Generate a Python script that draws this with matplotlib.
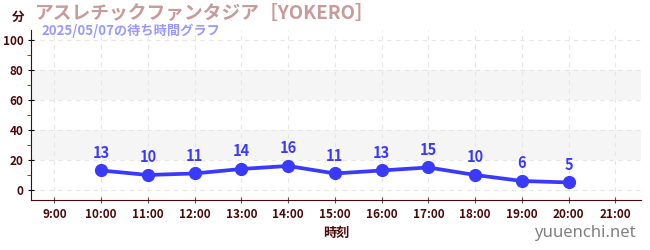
import matplotlib.pyplot as plt

plt.rcParams['font.family'] = ['Noto Sans CJK JP', 'DejaVu Sans']

# data
hours = [10, 11, 12, 13, 14, 15, 16, 17, 18, 19, 20]
waits = [13, 10, 11, 14, 16, 11, 13, 15, 10, 6, 5]
tick_hours = list(range(9, 22))
tick_labels = [f'{h}:00' for h in tick_hours]

title = 'アスレチックファンタジア［YOKERO］'
subtitle = '2025/05/07の待ち時間グラフ'

dark = '#4a0a0a'
line_col = '#3a3aff'

fig = plt.figure(figsize=(6.5, 2.5), dpi=100)
ax = fig.add_axes([31 / 650, 50 / 250, 610 / 650, 170 / 250])

ax.set_xlim(8.5, 21.55)
ax.set_ylim(-6.7, 106.7)

# alternating bands
ax.axhspan(20, 40, color='#f5f5f5', zorder=0, lw=0)
ax.axhspan(60, 80, color='#f5f5f5', zorder=0, lw=0)

ax.plot(hours, waits, color=line_col, lw=2.7, marker='o', ms=8.5, zorder=3)
for h, w in zip(hours, waits):
    ax.annotate(str(w), (h, w), xytext=(0, 7), textcoords='offset points',
                ha='center', va='bottom', color=line_col, fontsize=10.5,
                fontweight='bold')

ax.set_xticks(tick_hours)
ax.set_xticklabels(tick_labels, fontsize=8.5, color=dark, fontweight='bold')
ax.set_yticks([0, 20, 40, 60, 80, 100])
ax.set_yticks([10, 30, 50, 70, 90], minor=True)
for lab in ax.get_yticklabels():
    lab.set_fontweight('bold')
ax.tick_params(axis='y', labelsize=8.5, labelcolor=dark, color='black',
               length=4, direction='inout')
ax.tick_params(axis='y', which='minor', color='#cc0000', length=3)
ax.tick_params(axis='x', color='#555555', length=4, direction='inout')
ax.grid(True, ls=(0, (4, 4)), color='#e6e6e6', lw=0.8)
ax.set_axisbelow(True)

for s in ['top', 'right']:
    ax.spines[s].set_visible(False)
ax.spines['left'].set_color(dark)
ax.spines['bottom'].set_color(dark)

ax.set_xlabel('時刻', fontsize=9.5, color=dark, fontweight='bold', labelpad=4)

fig.text(12 / 650, 1 - 17 / 250, '分', fontsize=9, color=dark, fontweight='bold',
         va='center')
fig.text(35 / 650, 1 - 13 / 250, title, fontsize=13.5, color='#c89a9a',
         fontweight='bold', va='center')
fig.text(41 / 650, 1 - 31 / 250, subtitle, fontsize=9.5, color='#9999ff',
         fontweight='bold', va='center')
fig.text(636 / 650, 1 - 233 / 250, 'yuuenchi.net', fontsize=12,
         color='#808080', ha='right', va='center', family='Noto Sans',
         fontweight='bold')

fig.savefig('out.png', dpi=100)
